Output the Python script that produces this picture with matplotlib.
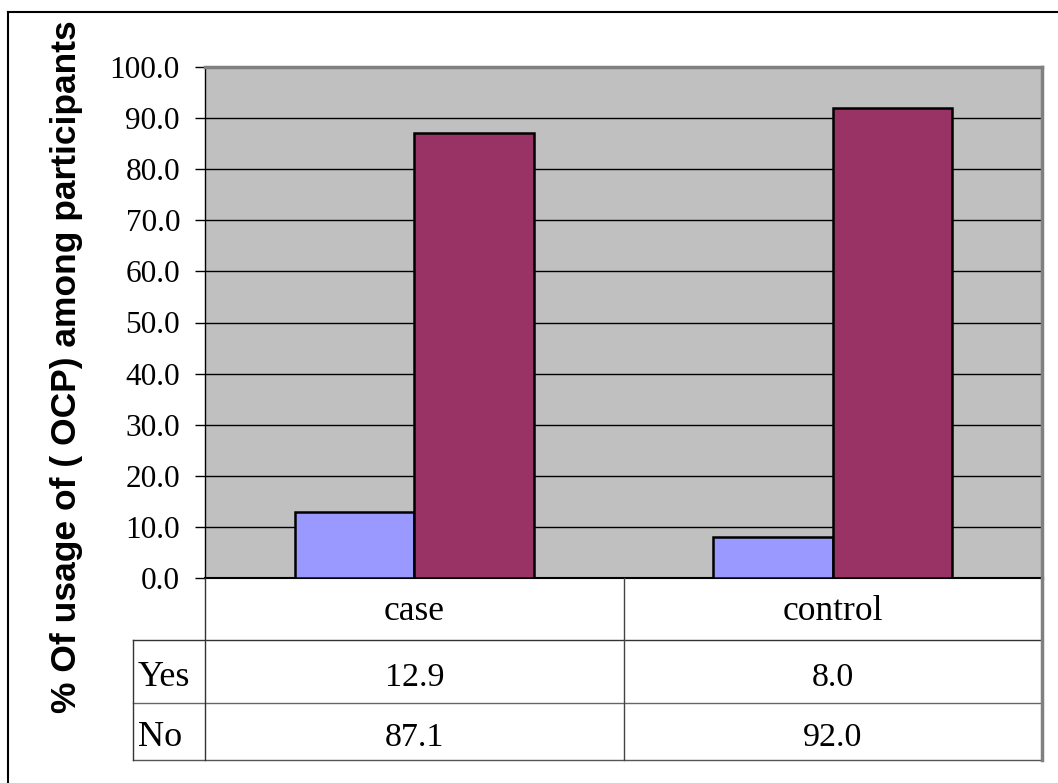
import matplotlib.pyplot as plt
from matplotlib.lines import Line2D
import numpy as np

categories = ['case', 'control']
series_names = ['Yes', 'No']
yes_vals = [12.9, 8.0]
no_vals = [87.1, 92.0]
series_colors = ['#9999FF', '#993366']
y_ticks = [0, 10, 20, 30, 40, 50, 60, 70, 80, 90, 100]

W, H = 1058, 783
fig = plt.figure(figsize=(W / 100, H / 100), dpi=100)

def fx(px):
    return px / W

def fy(py):
    return 1 - py / H

# plot area in pixel coords
left, right, top, bottom = 205, 1042, 67, 578
ax = fig.add_axes([fx(left), fy(bottom), fx(right - left), fy(top) - fy(bottom)])
ax.set_facecolor('#C0C0C0')

x = np.arange(len(categories))
w = 0.2857
ax.bar(x - w / 2, yes_vals, w, color=series_colors[0], edgecolor='black', linewidth=1.8, zorder=3)
ax.bar(x + w / 2, no_vals, w, color=series_colors[1], edgecolor='black', linewidth=1.8, zorder=3)

ax.set_xlim(-0.5, len(categories) - 0.5)
ax.set_ylim(0, 100)
ax.set_yticks(y_ticks)
ax.set_yticklabels([f'{t:.1f}' for t in y_ticks], fontfamily='Liberation Serif', fontsize=22.5)
ax.tick_params(axis='y', direction='out', length=7, width=1, pad=11)
ax.set_xticks([])
ax.grid(axis='y', color='black', linewidth=1, zorder=1)
ax.set_axisbelow(True)

for side in ['top', 'right']:
    ax.spines[side].set_color('#808080')
    ax.spines[side].set_linewidth(2.5)
ax.spines['left'].set_color('black')
ax.spines['left'].set_linewidth(1)
ax.spines['bottom'].set_color('black')
ax.spines['bottom'].set_linewidth(1.5)

# y label placed in figure pixels
fig.text(fx(67), fy(367), '% Of usage of ( OCP) among participants', fontfamily='Liberation Sans',
         fontweight='bold', fontsize=25.5, rotation=90, ha='center', va='center')

# data table below the plot
row_edges = [578, 640, 703, 760]
label_l = 133
mid = (left + right) / 2

def hline(x0, x1, y, color='#333333', lw=1):
    fig.add_artist(Line2D([fx(x0), fx(x1)], [fy(y), fy(y)], color=color, linewidth=lw))

def vline(xp, y0, y1, color='#333333', lw=1):
    fig.add_artist(Line2D([fx(xp), fx(xp)], [fy(y0), fy(y1)], color=color, linewidth=lw))

hline(label_l, right, row_edges[1])
hline(label_l, right, row_edges[2], color='#666666')
hline(label_l, right, row_edges[3], color='#555555')
vline(label_l, row_edges[1], row_edges[3])
vline(left, row_edges[0], row_edges[3])
vline(mid, row_edges[0], row_edges[3], color='#444444')
vline(right, row_edges[0], row_edges[3], color='#808080', lw=2.5)

col_centers = [(left + mid) / 2, (mid + right) / 2]
for i, cat in enumerate(categories):
    fig.text(fx(col_centers[i]), fy((row_edges[0] + row_edges[1]) / 2 + 3), cat,
             fontfamily='Liberation Serif', fontsize=25.5, ha='center', va='center')
for r, (name, vals) in enumerate(zip(series_names, [yes_vals, no_vals])):
    yc = (row_edges[r + 1] + row_edges[r + 2]) / 2 + 6
    fig.text(fx(label_l + 5), fy(yc), name, fontfamily='Liberation Serif', fontsize=26,
             ha='left', va='center')
    for i, v in enumerate(vals):
        fig.text(fx(col_centers[i]), fy(yc), f'{v:.1f}', fontfamily='Liberation Serif',
                 fontsize=24.5, ha='center', va='center')

# outer frame (top and left edges)
hline(8, W, 12, color='black', lw=1.5)
vline(8, 12, H, color='black', lw=1.5)

fig.savefig('out.png', dpi=100)
